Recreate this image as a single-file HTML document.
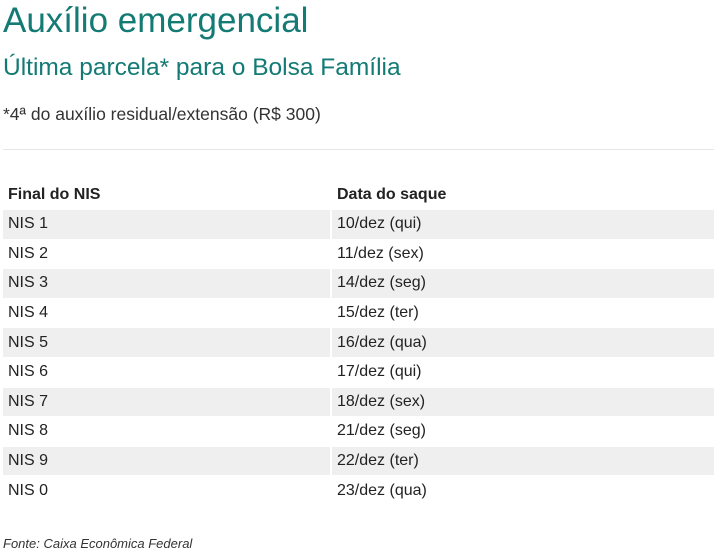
<!DOCTYPE html>
<html><head><style>
body{margin:0;width:714px;height:555px;background:#fff;font-family:"Liberation Sans",sans-serif;position:relative;overflow:hidden;color:#222}
.a{position:absolute;white-space:nowrap}
table{position:absolute;left:1px;top:180px;width:717px;border-collapse:separate;border-spacing:2px 1px}
td,th{height:28.6px;padding:0 0 0 5px;font-size:16px;text-align:left;vertical-align:middle}
th{font-weight:bold;height:28px}
tr.s td{background:#efefef}
td:first-child,th:first-child{width:322px}
</style></head><body>
<div class="a" style="left:3px;top:1px;font-size:35px;color:#137a74">Auxílio emergencial</div>
<div class="a" style="left:3px;top:54px;font-size:24.5px;color:#137a74">Última parcela* para o Bolsa Família</div>
<div class="a" style="left:3px;top:104px;font-size:17.5px;color:#333">*4ª do auxílio residual/extensão (R$ 300)</div>
<div class="a" style="left:3px;top:149px;width:711px;height:1px;background:#e6e6e6"></div>
<table>
<tr><th>Final do NIS</th><th>Data do saque</th></tr>
<tr class="s"><td>NIS 1</td><td>10/dez (qui)</td></tr>
<tr><td>NIS 2</td><td>11/dez (sex)</td></tr>
<tr class="s"><td>NIS 3</td><td>14/dez (seg)</td></tr>
<tr><td>NIS 4</td><td>15/dez (ter)</td></tr>
<tr class="s"><td>NIS 5</td><td>16/dez (qua)</td></tr>
<tr><td>NIS 6</td><td>17/dez (qui)</td></tr>
<tr class="s"><td>NIS 7</td><td>18/dez (sex)</td></tr>
<tr><td>NIS 8</td><td>21/dez (seg)</td></tr>
<tr class="s"><td>NIS 9</td><td>22/dez (ter)</td></tr>
<tr><td>NIS 0</td><td>23/dez (qua)</td></tr>
</table>
<div class="a" style="left:3px;top:536px;font-size:13px;font-style:italic;color:#333">Fonte: Caixa Econômica Federal</div>
</body></html>
